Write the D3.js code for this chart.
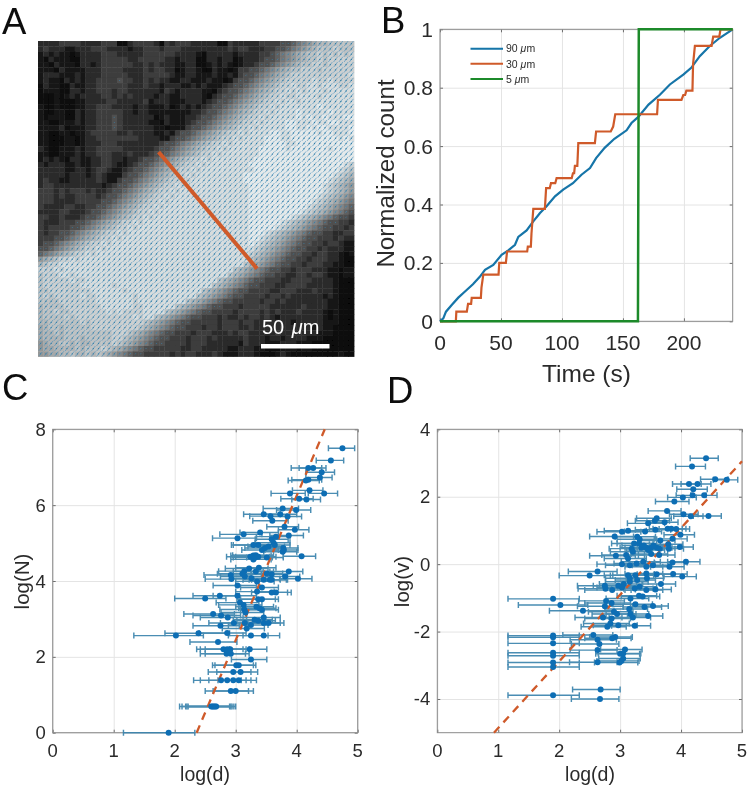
<!DOCTYPE html>
<html><head><meta charset="utf-8">
<script src="https://cdnjs.cloudflare.com/ajax/libs/d3/7.8.5/d3.min.js"></script>
<style>html,body{margin:0;padding:0;background:#fff}svg{display:block}</style>
</head><body><svg id="fig" width="747" height="788"></svg>
<script>
// Panel A: gray-level image (hex digit per cell, 60 x 60)
const imageRows = [
"2222333322 2233300233 3320323332 2222003222 2233334456 789aabbbbb",
"2322211222 3332222122 3332333222 2222223233 2223344567 89abbbcbbb",
"1212110122 2233322222 3333332222 1022222122 2233456789 abbcbcbcbc",
"1021110022 2233333223 3333221222 0022122012 2234456789 abbcbccccc",
"1102111022 1233333322 3232221122 0012121012 234456789a bbccbccccc",
"1110211112 2233332222 3233220122 1002110133 4456789abb cccbcccccc",
"1222111212 2233333222 3333321122 1112112134 456789abcc cccccccccd",
"1211021212 2333343322 3232211221 1121101344 56789abccc ccdccdcccc",
"0211002112 2333333222 3221222112 1211123445 6789abccdc cddcdddccd",
"0111002212 2333233222 2221321222 2110234456 789abccdcd cdddcddddd",
"0001012122 2233232322 2212211222 2102344567 89abccdccd dddcdddddd",
"0001000112 2223322222 3122211122 2123445678 9abccdcddc dddddddddd",
"1001000112 2333222212 2111201212 1234456789 abccdcdddd dddedddddd",
"1001100212 2333332212 2111111112 234456789a bccdcdddde dddddedddd",
"1011100212 2333432222 2201211122 344567 89ab ccdcddddde deddedddee",
"1100111212 2333432222 2110211123 4456789abc cdcddddeed ddeddeeddd",
"1111201112 2333432222 2211011134 456789abcc dcdddddeed dedeedddde",
"1100110112 3333322322 2211213445 6789abccdc ddddeeddee eeedeeddde",
"1100011012 2333333332 2221134456 789abccdcd dddeeeddee eeeeeeeded",
"1100011012 2233322222 2223445678 9abccdcddd dddeeeedde eeeeeeeeee",
"2100111212 2333332222 2234456789 abccdcdddd ddeeeeedee eeeeedeeee",
"1100111212 2333222322 234456789a bccdcddddd ddeeeeeeee eeeeeeeeee",
"1212102211 2233221223 4456789abc cdcddddddd deeeeeeeee eeeeeeeeee",
"2122211211 2233211234 456789abcc dcdddddddd eeeeeeeeee eeeeeeeedc",
"2222211221 2332112344 56789abccd cddddddddd deeeeeeeee eeeeeeedcb",
"2222212221 2321113445 6789abccdc ddddddddde eeeeeeeeee eeeeeedcba",
"2322112222 2321134456 789abccdcd ddddddddde eeeeeeeeee eeeeedcba9",
"2332222222 2212344567 89abccdcdd dddddddddd eeeeeeeeee eeeedcba98",
"3332323332 3223445678 9abccdcddd dddddddddd eeeeeeeeee eeeedcba98",
"3332322333 3234456789 abccdcdddd dddddddddd eeeeeeeeee eeedcba987",
"3332222333 334456789a bccdcddddd dddddddddd eeeeeeeeee eedcba9876",
"3222233223 344567 89ab ccdcdddddd dddddddddd eeeeeeeeee edcba98765",
"2222332223 4456789abc cdcddddddd dddddddddd eeeeeeeeee dcba987654",
"3322322234 456789abcc dcdddddddd dddddddddd eeeeeeeedc ba98765443",
"3222333445 6789abccdc dddddddddd dddddddddd eeeeeedcba 9876544332",
"3233334456 789abccdcd dddddddddd dddddddddd eeeeedcba9 8765443323",
"3233445678 9abccdcddd dddddddddd dddddddddd eeedcba987 6544332233",
"3334456789 abccdcdddd dddddddddd dddddddddd eedcba9876 5443332322",
"344567 89ab ccdcdddddd dddddddddd dddddddddd edcba98765 4433233211",
"4456789abc cdcddddddd dddddddddd dddddddddd dcba987654 4332322211",
"56789abccd cddddddddd dddddddddd dddddddddd cba9876544 3323322101",
"89abccdcdd dddddddddd dddddddddd dddddddddd ba98765443 3233322100",
"abccdddddd dddddddddd dddddddddd dddddddddb a987654433 2333221100",
"cccdcddddd dddddddddd dddddddddd dddddddba9 8765443323 3322211011",
"bcccddcddd dddddddddd dddddddddd ddddddba98 7654433223 3233211011",
"bcccccdccd dddddddddd dddddddddd ddddba9876 5443332233 3322221000",
"bcccccccdd ddddcddddd dddddddddd dddba98765 4433322333 3222221000",
"bbcccccccc ddddddcddd dddddddddd dba9876544 3333223332 2232221000",
"bcbcccccdc cdddddddcd dddddddddd ba98765443 3332332322 2222121000",
"bbbbcccccc cdddddddcd ddddddddba 9876544333 3323323222 2222211000",
"abbbbccccc ccddddddcc ddddddba98 7654433323 3333222222 3222211000",
"abbcbbcccc cccdcdcccc ddddba9876 5443333233 3323232223 2222101000",
"abbbbcbccc ccccccccdc ddba987654 4333232232 3323212222 2222101000",
"aabbbbbbcb cccccccccc ba98765443 3333233323 3222222212 2222111000",
"9abbabbbbb cccccccccb a987654433 3233233322 3222222222 2212110000",
"9aababbbbb bbbbcccba9 8765443332 3332223233 2222232222 2221110000",
"9aaaabbbab bbbbccba98 7654433323 3323222223 2221221222 2111000000",
"89aabbabaa bbbbcba987 6544333323 3322222213 2221112221 1100000000",
"899aaaabab bbcba98765 4433333223 3222221122 2110001110 1100000000",
"8899aabaab aba9876544 3333323233 2223211122 2100012100 0000000100"
];
const profileLineCols = [22.9, 41.6];
const profileLineRows = [21.1, 43.3];
const scaleBarMicrons = [0, 50];
const scaleBarLabel = "50 ";

// Panel B
const timeTicks = [0, 50, 100, 150, 200];
const countTicks = [0, 0.2, 0.4, 0.6, 0.8, 1];
const seriesNames = ["90 ", "30 ", "5 "];
const t90 = [0,2.7,4.9,9.6,15,20.5,27,32.8,36.9,43.7,50.5,56,61.5,64.2,71,76.5,82,87.4,94.3,101,109,116,123,128,135,143,153,157,162.6,171,180.3,188.5,199.5,206,213,221,229.5,240];
const n90 = [0,.01,.033,.056,.081,.102,.127,.153,.176,.193,.228,.243,.262,.289,.311,.342,.371,.394,.428,.451,.473,.502,.525,.559,.594,.625,.654,.679,.700,.742,.776,.811,.845,.868,.908,.942,.971,1];
const t30 = [0,13,13.4,22,23,25.5,26,33.5,34,35.5,48,48.6,54,55,71.5,72,74.5,75,76.5,86,87,90,91,94.5,95.6,108,109,110,110.6,112.6,113.4,127,128,140,142,143.7,178,178.7,198,199.5,201,202,207,207.5,209,222.7,224,229,230,240];
const n30 = [0,0,.033,.033,.06,.06,.08,.08,.115,.16,.16,.2,.2,.239,.239,.256,.256,.3,.385,.385,.456,.456,.473,.473,.49,.49,.507,.507,.532,.532,.61,.61,.65,.65,.667,.709,.709,.758,.758,.775,.775,.79,.79,.88,.943,.943,.975,.975,1,1];
const t5 = [0,162.3,163,240];
const n5 = [0,0,1,1];

// Panel C
const logDTicks = [0,1,2,3,4,5];
const logNTicks = [0,2,4,6,8];
const fitCd = [2.36, 4.46];
const fitCn = [0, 8];
const cD = [4.75,4.56,4.19,4.27,4.41,4.38,4.19,4.15,3.89,4.21,4.45,4.04,4.16,3.77,3.99,3.46,3.57,3.73,3.60,3.85,3.80,3.97,3.40,3.13,3.03,3.87,3.66,3.59,3.62,3.37,3.64,3.29,3.54,3.78,3.43,3.48,3.79,3.77,4.08,3.24,3.29,3.33,3.37,3.29,3.51,3.32,
2.92,2.93,3.14,3.11,3.22,3.33,3.38,3.51,3.59,3.87,3.81,4.02,3.56,3.59,3.26,3.15,3.35,3.46,3.03,3.43,3.35,3.59,3.66,3.03,2.74,2.50,3.37,3.43,3.07,3.13,3.34,3.39,3.43,3.14,3.16,2.76,2.63,2.87,3.46,3.31,3.37,2.97,2.75,3.46,3.54,3.15,3.25,3.18,2.39,2.86,2.02,3.25,3.46,2.71,2.80,2.86,2.91,3.23,2.85,2.92,3.25,3.01,3.05,2.96,3.08,2.76,2.86,2.96,3.05,2.92,3.00,2.60,2.62,2.64,2.66,2.68,1.90];
const cN = [7.50,7.18,6.98,6.98,6.87,6.73,6.67,6.65,6.31,6.39,6.31,6.17,6.15,5.91,5.87,5.76,5.71,5.76,5.59,5.70,5.43,5.35,5.28,5.23,5.13,5.20,5.17,5.10,5.01,4.95,4.95,4.95,4.91,4.87,4.82,4.87,4.82,4.77,4.65,4.64,4.67,4.68,4.64,4.57,4.62,4.62,
4.16,4.05,4.26,4.19,4.33,4.25,4.35,4.20,4.18,4.25,4.12,4.06,4.03,4.03,4.07,4.12,3.99,4.03,3.88,3.83,3.72,3.70,3.70,3.61,3.61,3.54,3.52,3.52,3.43,3.37,3.32,3.28,3.24,3.25,3.17,3.09,3.13,3.04,3.04,2.98,2.95,2.89,2.82,2.89,2.89,2.89,2.84,2.75,2.62,2.63,2.56,2.56,2.56,2.39,2.20,2.20,2.20,2.20,2.08,2.08,1.93,1.78,1.78,1.60,1.60,1.38,1.38,1.38,1.38,1.10,1.10,0.69,0.69,0.69,0.69,0.69,0];
const cLo = [4.52,4.32,3.91,4.04,4.15,4.15,3.92,3.86,3.58,3.93,4.19,3.74,3.92,3.45,3.67,3.13,3.23,3.45,3.28,3.56,3.51,3.70,3.07,2.74,2.62,3.56,3.34,3.32,3.32,2.96,3.30,2.93,3.20,3.47,3.10,3.15,3.48,3.46,3.78,2.85,2.92,2.95,3.00,2.92,3.18,2.96,
2.48,2.50,2.72,2.70,2.83,2.96,3.00,3.15,3.26,3.56,3.48,3.72,3.22,3.26,2.90,2.75,3.00,3.12,2.63,3.08,3.00,3.26,3.34,2.63,2.30,2.00,3.02,3.08,2.68,2.72,3.00,3.05,3.08,2.74,2.76,2.30,2.15,2.42,3.12,2.96,3.02,2.56,2.30,3.12,3.20,2.75,2.88,2.78,1.84,2.40,1.33,2.88,3.12,2.25,2.36,2.42,2.50,2.90,2.42,2.50,2.93,2.62,2.66,2.55,2.69,2.31,2.42,2.56,2.71,2.50,2.63,2.08,2.12,2.18,2.20,2.22,1.16];
const cHi = [4.95,4.77,4.41,4.48,4.62,4.58,4.41,4.37,4.14,4.43,4.67,4.27,4.39,4.03,4.23,3.73,3.84,4.00,3.86,4.08,4.03,4.20,3.70,3.43,3.34,4.11,3.89,3.86,3.89,3.67,3.89,3.60,3.80,4.02,3.70,3.76,4.02,4.00,4.31,3.55,3.58,3.62,3.66,3.58,3.78,3.60,
3.25,3.27,3.45,3.42,3.53,3.62,3.66,3.77,3.85,4.10,4.05,4.25,3.83,3.85,3.56,3.45,3.63,3.73,3.34,3.70,3.63,3.85,3.91,3.34,3.06,2.84,3.65,3.70,3.38,3.43,3.62,3.66,3.70,3.44,3.46,3.08,2.98,3.18,3.73,3.60,3.65,3.27,3.06,3.73,3.79,3.45,3.53,3.47,2.90,3.17,2.47,3.53,3.72,3.02,3.12,3.17,3.22,3.51,3.16,3.22,3.51,3.29,3.33,3.25,3.36,3.09,3.17,3.25,3.34,3.21,3.29,2.90,2.92,2.94,2.97,3.00,2.33];

// Panel D
const logVTicks = [-4,-2,0,2,4];
const fitDd = [0.93, 5];
const fitDv = [-5, 3.05];
const dRows = [ // log d, log v, bar low, bar high
[4.41,3.14,4.15,4.61],[4.18,2.90,3.91,4.40],[4.56,2.52,4.32,4.77],[4.75,2.50,4.53,4.93],[4.13,2.38,3.86,4.33],[4.27,2.38,4.00,4.49],[4.20,2.22,3.93,4.43],[4.19,2.04,3.92,4.41],[4.38,2.04,4.16,4.59],[4.03,1.98,3.78,4.25],
[3.89,1.86,3.58,4.13],[3.77,1.58,3.46,4.00],[4.04,1.48,3.81,4.28],[4.16,1.42,3.88,4.36],[4.45,1.43,4.20,4.66],[3.60,1.36,3.27,3.84],[3.57,1.29,3.25,3.81],[3.73,1.24,3.44,3.95],[3.46,1.21,3.12,3.73],[3.78,1.05,3.48,4.02],
[3.84,1.05,3.54,4.08],[3.92,1.04,3.64,4.14],[3.58,1.02,3.25,3.83],[3.41,0.97,3.07,3.68],[3.13,0.99,2.74,3.43],[3.03,0.96,2.62,3.34],[2.91,0.82,2.50,3.22],[3.99,0.87,3.72,4.22],[3.28,0.81,2.92,3.58],[3.32,0.74,2.95,3.60],
[3.86,0.75,3.56,4.10],[3.66,0.70,3.34,3.90],[3.23,0.61,2.86,3.54],[3.31,0.61,2.95,3.60],[3.79,0.59,3.48,4.03],[3.98,0.51,3.70,4.20],[3.35,0.49,3.00,3.64],[3.43,0.49,3.08,3.70],[3.51,0.49,3.18,3.78],[3.60,0.49,3.28,3.85],
[3.65,0.46,3.32,3.90],[3.80,0.46,3.50,4.04],[3.19,0.46,2.82,3.50],[3.39,0.55,3.03,3.66],[3.55,0.55,3.20,3.80],[3.46,0.42,3.10,3.73],[2.93,0.25,2.50,3.25],[3.10,0.27,2.70,3.40],[3.13,0.17,2.74,3.43],[3.21,0.37,2.84,3.52],
[3.51,0.30,3.18,3.78],[3.64,0.27,3.30,3.90],[4.08,0.07,3.78,4.31],[3.86,0.05,3.56,4.10],[3.81,-0.08,3.50,4.05],[3.03,0,2.62,3.34],[3.16,-0.03,2.76,3.46],[3.27,0.02,2.90,3.57],[3.38,0.07,3.02,3.66],[3.54,-0.03,3.20,3.80],
[3.43,-0.08,3.08,3.70],[2.63,-0.22,2.15,2.95],[2.50,-0.34,2.00,2.84],[3.87,-0.29,3.56,4.10],[3.60,-0.30,3.28,3.86],[4.02,-0.37,3.72,4.25],[3.25,-0.33,2.88,3.55],[3.43,-0.28,3.08,3.70],[3.13,-0.33,2.74,3.43],[3.44,-0.42,3.10,3.71],
[3.16,-0.42,2.76,3.46],[3.67,-0.59,3.36,3.91],[3.28,-0.47,2.92,3.58],[3.16,-0.52,2.76,3.46],[2.75,-0.64,2.30,3.05],[2.76,-0.73,2.31,3.06],[2.87,-0.77,2.42,3.18],[2.97,-0.64,2.56,3.27],[3.06,-0.59,2.66,3.37],[3.03,-0.69,2.62,3.34],
[3.24,-0.72,2.86,3.54],[3.32,-0.67,2.96,3.60],[3.43,-0.77,3.08,3.70],[3.58,-0.75,3.25,3.84],[3.17,-1.02,2.77,3.47],[3.31,-0.94,2.95,3.60],[3.37,-0.96,3.02,3.65],[1.90,-1.03,1.16,2.33],[2.02,-1.21,1.33,2.47],[2.39,-1.38,1.84,2.90],
[2.77,-1.09,2.32,3.07],[2.86,-1.15,2.42,3.17],[2.75,-1.25,2.30,3.05],[3.25,-1.19,2.88,3.53],[3.15,-1.33,2.75,3.45],[3.40,-1.27,3.05,3.68],[3.54,-1.24,3.20,3.79],[2.90,-1.41,2.48,3.21],[2.95,-1.48,2.54,3.26],[2.72,-1.58,2.26,3.03],
[2.86,-1.61,2.42,3.17],[3.17,-1.48,2.77,3.47],[3.21,-1.58,2.82,3.50],[3.46,-1.54,3.12,3.70],[2.97,-1.81,2.56,3.28],[2.79,-1.86,2.36,3.10],[2.84,-1.76,2.40,3.15],[3.24,-1.83,2.86,3.50],[1.90,-2.12,1.16,2.33],[1.90,-2.17,1.16,2.33],
[1.90,-2.35,1.16,2.33],[2.56,-2.10,2.06,2.88],[2.92,-2.16,2.50,3.20],[2.87,-2.20,2.42,3.18],[2.63,-2.24,2.18,2.94],[2.66,-2.37,2.20,2.98],[2.63,-2.55,2.18,2.95],[3.08,-2.53,2.68,3.36],[3.00,-2.66,2.60,3.32],[3.05,-2.65,2.64,3.34],
[1.90,-2.63,1.16,2.33],[1.90,-2.72,1.16,2.33],[2.63,-2.91,2.17,2.95],[3.05,-2.80,2.65,3.33],[3.02,-2.87,2.62,3.31],[2.99,-2.92,2.58,3.29],[1.90,-2.92,1.16,2.33],[1.90,-3.05,1.16,2.33],[2.68,-3.72,2.22,3.00],[2.67,-4.00,2.20,2.98],[1.90,-3.89,1.16,2.33]
];

const BLUE="#0f6eb4", BAR="#3b84ad", ORANGE="#cf5a2a", GREEN="#1f8a2a", TEXT="#2b2b2b", LINE90="#1474a8";
const FONT='"Liberation Sans", Arial, sans-serif';
const svg = d3.select("#fig");
const defs = svg.append("defs");
defs.append("filter").attr("id","soft").attr("x","-2%").attr("y","-2%").attr("width","104%").attr("height","104%")
  .append("feGaussianBlur").attr("stdDeviation",0.45);
const root = svg.append("g").attr("filter","url(#soft)").attr("font-family",FONT).attr("fill",TEXT);

function label(x,y,txt,size,opts={}){
  const t=root.append("text").attr("x",x).attr("y",y).attr("font-size",size).attr("text-anchor",opts.anchor||"middle").attr("fill",opts.fill||TEXT);
  if(opts.rotate) t.attr("transform",`rotate(-90 ${x} ${y})`);
  t.text(txt); return t;
}
[["A",2,33.5],["B",381,33],["C",2,400],["D",387,403]].forEach(d=>label(d[1],d[2],d[0],36.5,{anchor:"start",fill:"#111"}));

// ---------- Panel A
(function(){
  const grid = imageRows.map(r=>r.replace(/ /g,"").split("").map(c=>parseInt(c,16)));
  const cols=d3.range(60), rows=d3.range(60);
  const gx=d3.scaleLinear().domain([0,60]).range([38,354]);
  const gy=d3.scaleLinear().domain([0,60]).range([41,356.5]);
  const gray=d3.scaleLinear().domain([0,3,6,9,14]).range(["#080808","#3c3c3c","#747474","#a5a8a9","#e4e9ea"]);
  const g=root.append("g");
  const cells=[]; rows.forEach(r=>cols.forEach(c=>cells.push({r,c,v:grid[r][c]===undefined?0:grid[r][c]})));
  g.selectAll("rect").data(cells).join("rect")
    .attr("x",d=>gx(d.c)).attr("y",d=>gy(d.r)).attr("width",gx(1)-gx(0)+.4).attr("height",gy(1)-gy(0)+.4)
    .attr("fill",d=>gray(d.v));
  const mag=d3.scaleLinear().domain([3,10]).range([0,3.3]).clamp(true);
  const ang=-52*Math.PI/180;
  const q=cells.filter(d=>d.v>3);
  g.selectAll("line.q").data(q).join("line").attr("class","q")
    .attr("x1",d=>gx(d.c+.5)-Math.cos(ang)*mag(d.v)).attr("y1",d=>gy(d.r+.5)-Math.sin(ang)*mag(d.v))
    .attr("x2",d=>gx(d.c+.5)+Math.cos(ang)*mag(d.v)).attr("y2",d=>gy(d.r+.5)+Math.sin(ang)*mag(d.v))
    .attr("stroke","#4a92be").attr("stroke-width",.85).attr("opacity",.75);
  g.selectAll("circle").data(q).join("circle")
    .attr("cx",d=>gx(d.c+.5)).attr("cy",d=>gy(d.r+.5)).attr("r",d=>.25+mag(d.v)*.13).attr("fill","#1f729f").attr("opacity",.85);
  root.append("path").attr("d",d3.line().x(d=>gx(d[0])).y(d=>gy(d[1]))(d3.zip(profileLineCols,profileLineRows)))
    .attr("stroke",ORANGE).attr("stroke-width",4).attr("fill","none");
  const um=d3.scaleLinear().domain(scaleBarMicrons).range([261,329.5]);
  root.append("rect").attr("x",um(0)).attr("y",344).attr("width",um(50)-um(0)).attr("height",4.5).attr("fill","#fff");
  const t=label(262,334,scaleBarLabel,20,{anchor:"start",fill:"#fff"});
  t.append("tspan").attr("font-style","italic").attr("dx",2).text("μ");
  t.append("tspan").text("m");
})();

function frame(x,y,xt,yt,L,R,T,B){
  const g=root.append("g");
  g.append("g").attr("transform",`translate(0,${B})`).call(d3.axisBottom(x).tickValues(xt).tickSize(-(B-T)).tickFormat(""))
    .call(s=>s.select(".domain").remove()).selectAll("line").attr("stroke","#e4e4e4");
  g.append("g").attr("transform",`translate(${L},0)`).call(d3.axisLeft(y).tickValues(yt).tickSize(-(R-L)).tickFormat(""))
    .call(s=>s.select(".domain").remove()).selectAll("line").attr("stroke","#e4e4e4");
  const f=root.append("g");
  const tick="#6e6e6e";
  f.append("g").attr("transform",`translate(0,${B})`).call(d3.axisTop(x).tickValues(xt).tickSize(3).tickFormat("")).call(s=>s.select(".domain").remove()).selectAll("line").attr("stroke",tick);
  f.append("g").attr("transform",`translate(0,${T})`).call(d3.axisBottom(x).tickValues(xt).tickSize(3).tickFormat("")).call(s=>s.select(".domain").remove()).selectAll("line").attr("stroke",tick);
  f.append("g").attr("transform",`translate(${L},0)`).call(d3.axisRight(y).tickValues(yt).tickSize(3).tickFormat("")).call(s=>s.select(".domain").remove()).selectAll("line").attr("stroke",tick);
  f.append("g").attr("transform",`translate(${R},0)`).call(d3.axisLeft(y).tickValues(yt).tickSize(3).tickFormat("")).call(s=>s.select(".domain").remove()).selectAll("line").attr("stroke",tick);
  f.append("rect").attr("x",L).attr("y",T).attr("width",R-L).attr("height",B-T).attr("fill","none").attr("stroke","#8a8a8a").attr("stroke-width",1);
}

// ---------- Panel B
(function(){
  const L=440,R=732.7,T=29.3,B=321.3;
  const x=d3.scaleLinear().domain([0,240]).range([L,R]);
  const y=d3.scaleLinear().domain([0,1]).range([B,T]);
  frame(x,y,timeTicks,countTicks,L,R,T,B);
  const line=d3.line().x(d=>x(d[0])).y(d=>y(d[1]));
  root.append("path").attr("d",line(d3.zip(t90,n90))).attr("fill","none").attr("stroke",LINE90).attr("stroke-width",2.2);
  root.append("path").attr("d",line(d3.zip(t30,n30))).attr("fill","none").attr("stroke",ORANGE).attr("stroke-width",2.2);
  root.append("path").attr("d",line(d3.zip(t5,n5))).attr("fill","none").attr("stroke",GREEN).attr("stroke-width",2.5);
  timeTicks.forEach(t=>label(x(t),350,t,21));
  countTicks.forEach(t=>label(433,y(t)+7.5,t,21,{anchor:"end"}));
  label(586.5,381.5,"Time (s)",24.5);
  label(394,173.5,"Normalized count",24.2,{rotate:true});
  const ly=d3.scalePoint().domain(seriesNames).range([48.7,79]);
  const cols=[LINE90,ORANGE,GREEN];
  seriesNames.forEach((n,i)=>{
    root.append("line").attr("x1",470.5).attr("x2",503).attr("y1",ly(n)).attr("y2",ly(n)).attr("stroke",cols[i]).attr("stroke-width",2);
    const t=label(506,ly(n)+3.7,n,10.5,{anchor:"start"});
    t.append("tspan").attr("font-style","italic").text("μ"); t.append("tspan").text("m");
  });
})();

// ---------- scatter panels
function scatter(L,R,yDom,yt,pts,fitX,fitY,yLabelX,xLabelCx,yName){
  const T=429.3,B=732.7;
  const x=d3.scaleLinear().domain([0,5]).range([L,R]);
  const y=d3.scaleLinear().domain(yDom).range([B,T]);
  frame(x,y,logDTicks,yt,L,R,T,B);
  const g=root.append("g");
  const bars=g.append("g").attr("stroke",BAR).attr("stroke-width",1.45).attr("opacity",.92);
  const capH=3;
  bars.selectAll("path").data(pts).join("path")
    .attr("fill","none")
    .attr("d",d=>`M${x(d.lo)},${y(d.v)}H${x(d.hi)}M${x(d.lo)},${y(d.v)-capH}V${y(d.v)+capH}M${x(d.hi)},${y(d.v)-capH}V${y(d.v)+capH}`);
  g.append("path").attr("d",d3.line().x(d=>x(d[0])).y(d=>y(d[1]))(d3.zip(fitX,fitY)))
    .attr("stroke",ORANGE).attr("stroke-width",2.3).attr("stroke-dasharray","8 6").attr("fill","none");
  g.selectAll("circle").data(pts).join("circle").attr("cx",d=>x(d.d)).attr("cy",d=>y(d.v)).attr("r",3).attr("fill",BLUE);
  logDTicks.forEach(t=>label(x(t),756.5,t,18.5));
  yt.forEach(t=>label(L-7,y(t)+6.5,String(t),18.5,{anchor:"end"}));
  label(xLabelCx,781,"log(d)",19.5);
  label(yLabelX,581.5,yName,20.5,{rotate:true});
}
scatter(52.7,357.7,[0,8],logNTicks,cD.map((d,i)=>({d,v:cN[i],lo:cLo[i],hi:cHi[i]})),fitCd,fitCn,29,205,"log(N)");
scatter(437.3,742,[-5,4],logVTicks,dRows.map(r=>({d:r[0],v:r[1],lo:r[2],hi:r[3]})),fitDd,fitDv,409,590,"log(v)");
</script></body></html>
